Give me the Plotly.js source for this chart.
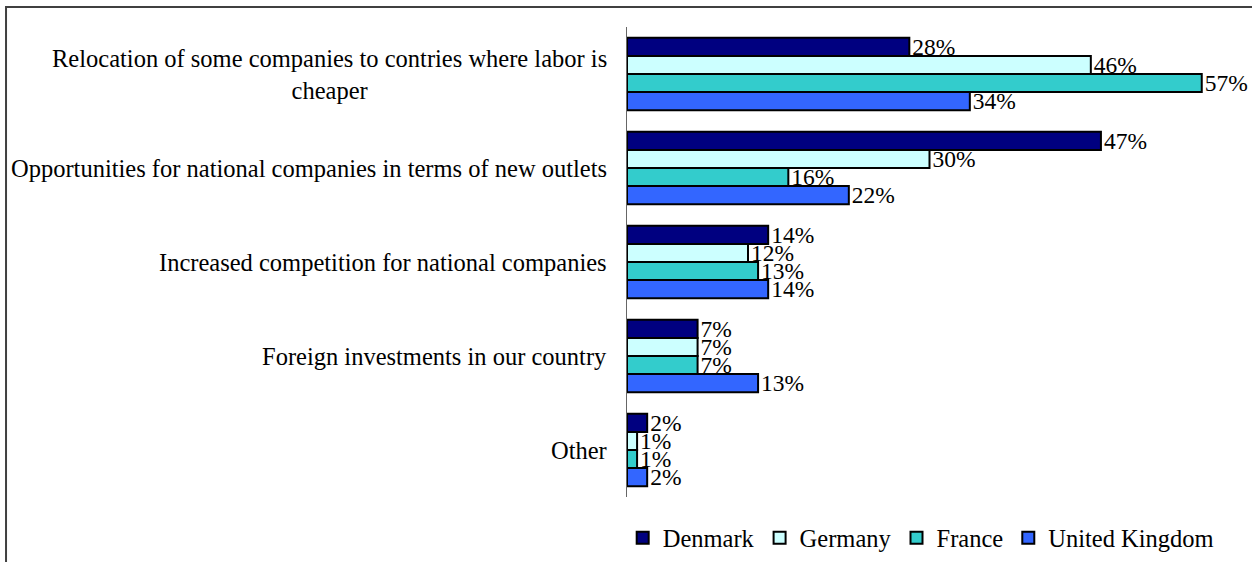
<!DOCTYPE html>
<html>
<head>
<meta charset="utf-8">
<script src="https://cdn.plot.ly/plotly-3.0.1.min.js"></script>
<style>
  html, body { margin: 0; padding: 0; background: #ffffff; }
  #chart { width: 1252px; height: 562px; }
</style>
</head>
<body>
<div id="chart"></div>
<script>
// ---- data ----
const categories = [
  "Relocation of some companies to contries where labor is<br>cheaper",
  "Opportunities for national companies in terms of new outlets",
  "Increased competition for national companies",
  "Foreign investments in our country",
  "Other"
];
const seriesNames = ["Denmark", "Germany", "France", "United Kingdom"];
const denmark = [28, 47, 14, 7, 2];
const germany = [46, 30, 12, 7, 1];
const france  = [57, 16, 13, 7, 1];
const uk      = [34, 22, 14, 13, 2];
const seriesValues = [denmark, germany, france, uk];
const seriesColors = ["#000080", "#CCFFFF", "#33CCCC", "#3366FF"];

const FONT = "Liberation Serif";

const traces = seriesNames.map((name, i) => ({
  type: "bar",
  orientation: "h",
  name: name,
  y: categories,
  x: seriesValues[i],
  text: seriesValues[i].map(v => v + "%"),
  textposition: "outside",
  constraintext: "none",
  cliponaxis: false,
  textfont: { family: FONT, size: 23.5, color: "#000000" },
  marker: { color: seriesColors[i], line: { color: "#000000", width: 2 } },
  hoverinfo: "none"
}));

const annotations = categories.map(c => ({
  xref: "paper", yref: "y",
  x: 0, y: c,
  xanchor: "right", yanchor: "middle",
  xshift: -18,
  align: "center",
  showarrow: false,
  text: c,
  font: { family: FONT, size: 24.5, color: "#000000" }
}));

const layout = {
  width: 1252,
  height: 562,
  margin: { l: 627, r: 20, t: 27, b: 65, pad: 0, autoexpand: false },
  paper_bgcolor: "#ffffff",
  plot_bgcolor: "#ffffff",
  barmode: "group",
  bargap: 0.23,
  bargroupgap: 0,
  font: { family: FONT, size: 24, color: "#000000" },
  xaxis: {
    range: [0, 60],
    visible: false,
    showgrid: false,
    zeroline: false
  },
  yaxis: {
    type: "category",
    autorange: "reversed",
    showticklabels: false,
    showgrid: false,
    zeroline: false,
    showline: true,
    linecolor: "#666666",
    linewidth: 1,
    ticks: ""
  },
  showlegend: true,
  legend: {
    orientation: "h",
    traceorder: "normal",
    x: 0.978,
    xanchor: "right",
    y: -0.087,
    yanchor: "middle",
    font: { family: FONT, size: 24.5, color: "#000000" },
    bgcolor: "rgba(0,0,0,0)",
    itemwidth: 30
  },
  annotations: annotations,
  shapes: [{
    type: "rect",
    xref: "paper", yref: "paper",
    x0: -1.0264, x1: 1.2,
    y0: -0.5, y1: 1.0426,
    line: { color: "#404040", width: 2 },
    fillcolor: "rgba(0,0,0,0)",
    layer: "above"
  }]
};

Plotly.newPlot("chart", traces, layout, { displayModeBar: false, staticPlot: true });
</script>
</body>
</html>
